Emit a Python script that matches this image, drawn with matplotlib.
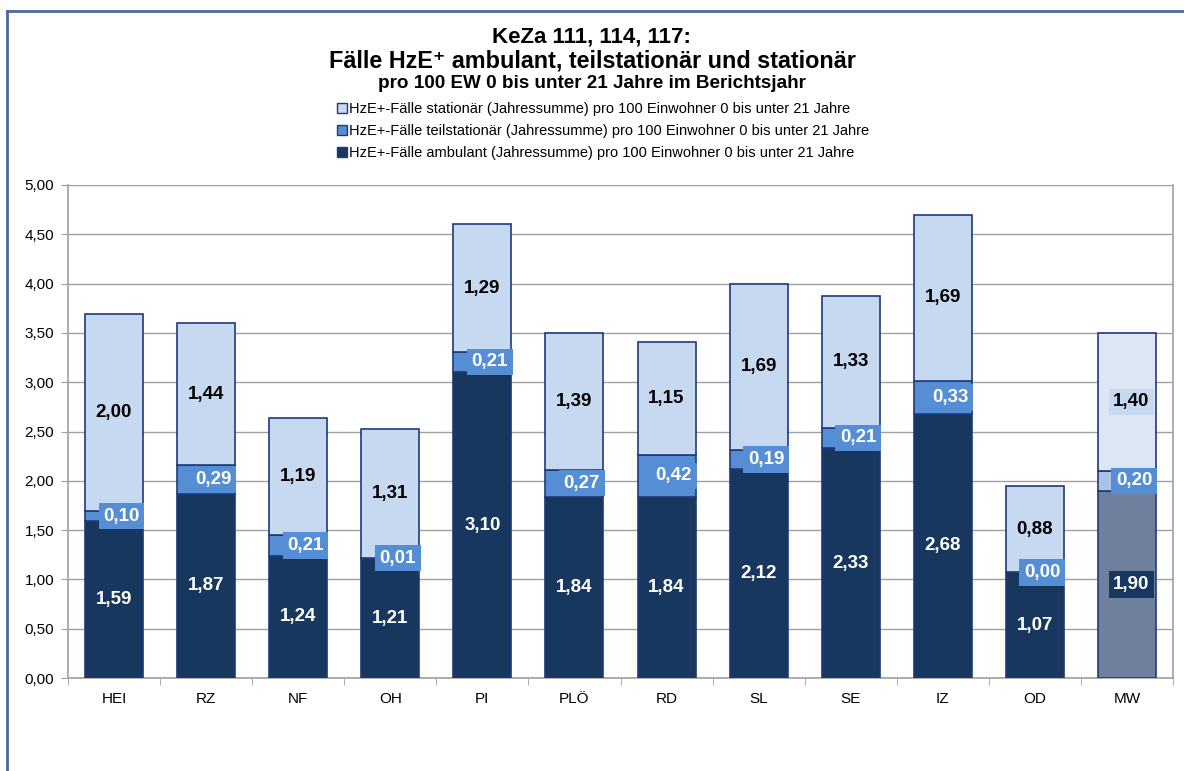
import matplotlib
matplotlib.use("Agg")
import matplotlib.pyplot as plt
from matplotlib.lines import Line2D
from matplotlib.patches import Patch
import numpy as np

plt.rcParams['font.family'] = ['Liberation Sans', 'DejaVu Sans']

categories = ["HEI", "RZ", "NF", "OH", "PI", "PLÖ", "RD", "SL", "SE", "IZ", "OD", "MW"]
ambulant = [1.59, 1.87, 1.24, 1.21, 3.10, 1.84, 1.84, 2.12, 2.33, 2.68, 1.07, 1.90]
teilstationaer = [0.10, 0.29, 0.21, 0.01, 0.21, 0.27, 0.42, 0.19, 0.21, 0.33, 0.00, 0.20]
stationaer = [2.00, 1.44, 1.19, 1.31, 1.29, 1.39, 1.15, 1.69, 1.33, 1.69, 0.88, 1.40]
yticks = [0, 0.5, 1.0, 1.5, 2.0, 2.5, 3.0, 3.5, 4.0, 4.5, 5.0]

lab_stat = "HzE+-Fälle stationär (Jahressumme) pro 100 Einwohner 0 bis unter 21 Jahre"
lab_teil = "HzE+-Fälle teilstationär (Jahressumme) pro 100 Einwohner 0 bis unter 21 Jahre"
lab_amb = "HzE+-Fälle ambulant (Jahressumme) pro 100 Einwohner 0 bis unter 21 Jahre"

c_amb = "#17375E"
c_teil = "#558ED5"
c_stat = "#C6D9F1"
c_edge = "#1F3A78"
c_amb_mw = "#6F809E"
c_teil_mw = "#A9C3E6"
c_stat_mw = "#DCE6F4"

fig = plt.figure(figsize=(11.84, 7.71), dpi=100)
ax = fig.add_axes([68/1184, 1-678/771, (1173-68)/1184, (678-185)/771])

x = np.arange(len(categories))
w = 0.63
amb = np.array(ambulant)
teil = np.array(teilstationaer)
stat = np.array(stationaer)

amb_cols = [c_amb]*11 + [c_amb_mw]
teil_cols = [c_teil]*11 + [c_teil_mw]
stat_cols = [c_stat]*11 + [c_stat_mw]

ax.bar(x, amb, w, color=amb_cols, edgecolor=c_edge, linewidth=1.2, zorder=3)
ax.bar(x, teil, w, bottom=amb, color=teil_cols, edgecolor=c_edge, linewidth=1.2, zorder=3)
ax.bar(x, stat, w, bottom=amb+teil, color=stat_cols, edgecolor=c_edge, linewidth=1.2, zorder=3)

def fmt(v):
    return f"{v:.2f}".replace(".", ",")

for i in range(len(categories)):
    kw = dict(ha="center", va="center", fontsize=13.5, fontweight="bold", zorder=5)
    if i == 11:
        ax.text(x[i] + 0.05, amb[i]/2, fmt(amb[i]), color="white",
                bbox=dict(boxstyle="square,pad=0.25", fc=c_amb, ec="none"), **kw)
    else:
        ax.text(x[i], amb[i]/2, fmt(amb[i]), color="white", **kw)
    ax.text(x[i] + 0.08, amb[i] + teil[i]/2, fmt(teil[i]), color="white",
            bbox=dict(boxstyle="square,pad=0.25", fc=c_teil, ec="none"), **kw)
    if i == 11:
        ax.text(x[i] + 0.05, amb[i] + teil[i] + stat[i]/2, fmt(stat[i]), color="black",
                bbox=dict(boxstyle="square,pad=0.25", fc=c_stat, ec="none"), **kw)
    else:
        ax.text(x[i], amb[i] + teil[i] + stat[i]/2, fmt(stat[i]), color="black", **kw)

ax.set_xlim(-0.5, len(categories) - 0.5)
ax.set_ylim(0, 5)
ax.set_yticks(yticks)
ax.set_yticklabels([fmt(v) for v in yticks], fontsize=11)
ax.set_xticks(x)
ax.set_xticklabels(categories, fontsize=11)
ax.tick_params(axis="x", length=0, pad=10)
ax.set_xticks(np.arange(-0.5, len(categories)), minor=True)
ax.tick_params(axis="x", which="minor", length=5, color="#A0A0A0", direction="out")
ax.tick_params(axis="y", length=5, color="#A0A0A0", direction="out", pad=5)
ax.grid(axis="y", color="#A0A0A0", linewidth=1, zorder=0)
ax.set_axisbelow(True)
for s in ["left", "bottom", "right"]:
    ax.spines[s].set_color("#A0A0A0")
    ax.spines[s].set_linewidth(1.2)
ax.spines["top"].set_visible(False)

# title
fig.text(0.5, 1-37/771, "KeZa 111, 114, 117:", ha="center", va="center",
         fontsize=16, fontweight="bold")
fig.text(0.5, 1-61/771, "Fälle HzE\u207a ambulant, teilstationär und stationär", ha="center",
         va="center", fontsize=16.8, fontweight="bold")
fig.text(0.5, 1-84/771, "pro 100 EW 0 bis unter 21 Jahre im Berichtsjahr", ha="center",
         va="center", fontsize=13.6, fontweight="bold")

handles = [Patch(fc=c_stat, ec=c_edge, lw=1), Patch(fc=c_teil, ec=c_edge, lw=1),
           Patch(fc=c_amb, ec=c_edge, lw=1)]
fig.legend(handles, [lab_stat, lab_teil, lab_amb], loc="upper left",
           bbox_to_anchor=(337/1184, 1-102/771), frameon=False, fontsize=10.5,
           handlelength=0.7, handleheight=0.7, handletextpad=0.15,
           labelspacing=0.55, borderpad=0, borderaxespad=0)

# outer frame lines
fig.add_artist(Line2D([7/1184, 1.0], [1-11/771, 1-11/771], color="#4A6A9E", lw=2,
                      transform=fig.transFigure))
fig.add_artist(Line2D([7/1184, 7/1184], [0, 1-11/771], color="#4A6A9E", lw=2,
                      transform=fig.transFigure))

fig.savefig("out.png", dpi=100)
